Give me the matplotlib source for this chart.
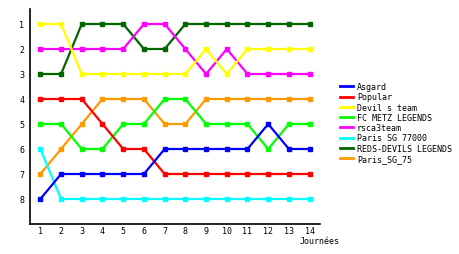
import matplotlib
matplotlib.use("Agg")
import matplotlib.pyplot as plt

journees = list(range(1, 15))
equipes = ["Asgard", "Popular", "Devil s team", "FC METZ LEGENDS", "rsca3team",
           "Paris SG 77000", "REDS-DEVILS LEGENDS", "Paris_SG_75"]
couleurs = ["#0000ff", "#ff0000", "#ffff00", "#00ff00", "#ff00ff",
            "#00ffff", "#006600", "#ff9900"]

asgard = [8, 7, 7, 7, 7, 7, 6, 6, 6, 6, 6, 5, 6, 6]
popular = [4, 4, 4, 5, 6, 6, 7, 7, 7, 7, 7, 7, 7, 7]
devil = [1, 1, 3, 3, 3, 3, 3, 3, 2, 3, 2, 2, 2, 2]
fcmetz = [5, 5, 6, 6, 5, 5, 4, 4, 5, 5, 5, 6, 5, 5]
rsca = [2, 2, 2, 2, 2, 1, 1, 2, 3, 2, 3, 3, 3, 3]
psg77 = [6, 8, 8, 8, 8, 8, 8, 8, 8, 8, 8, 8, 8, 8]
reds = [3, 3, 1, 1, 1, 2, 2, 1, 1, 1, 1, 1, 1, 1]
psg75 = [7, 6, 5, 4, 4, 4, 5, 5, 4, 4, 4, 4, 4, 4]

classements = [asgard, popular, devil, fcmetz, rsca, psg77, reds, psg75]

police = "DejaVu Sans Mono"

fig = plt.figure(figsize=(4.6, 2.55), dpi=100)
ax = fig.add_axes([30/460, 1 - 225/255, 290/460, 215/255])

# on trace dans l'ordre inverse pour que Asgard reste au-dessus
for nom, c, vals in reversed(list(zip(equipes, couleurs, classements))):
    ax.plot(journees, vals, color=c, lw=1.6, marker="s", ms=2.5,
            mec=c, mfc=c, label=nom)

ax.set_xlim(0.5, 14.5)
ax.set_ylim(9, 0.4)
ax.set_xticks(journees)
ax.set_yticks(range(1, 9))
ax.tick_params(length=0, labelsize=6, pad=1.5)
ax.tick_params(axis="y", pad=4)
for lab in ax.get_xticklabels() + ax.get_yticklabels():
    lab.set_family(police)
for s in ["top", "right"]:
    ax.spines[s].set_visible(False)
ax.spines["left"].set_linewidth(1.2)
ax.spines["bottom"].set_linewidth(1.2)

fig.text(300/460, 1 - 242/255, "Journées", fontsize=6, family=police, va="center")

h, l = ax.get_legend_handles_labels()
leg = fig.legend(h[::-1], l[::-1], loc="upper left",
                 bbox_to_anchor=(336/460, 1 - 79/255), frameon=False,
                 prop={"family": police, "size": 6}, handlelength=1.5,
                 handletextpad=0.5, labelspacing=0.15, borderpad=0)
for line in leg.get_lines():
    line.set_marker("")
    line.set_linewidth(2)

fig.savefig("out.png", dpi=100)
